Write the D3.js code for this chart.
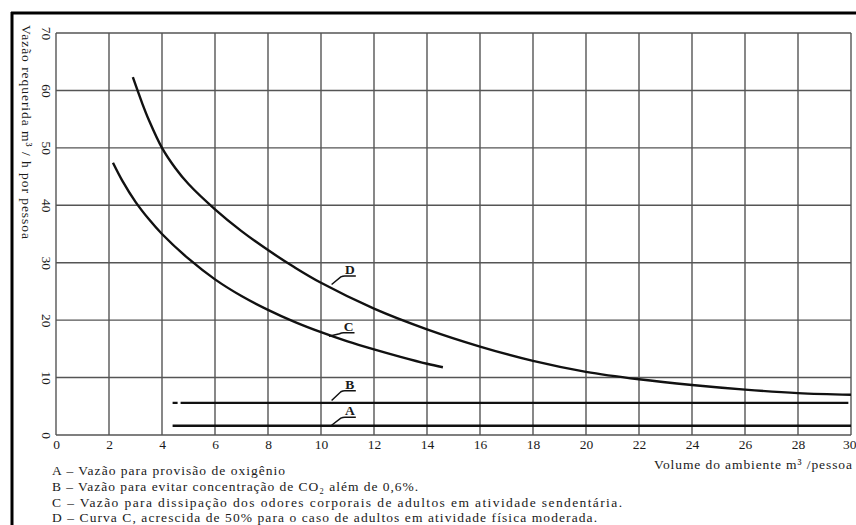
<!DOCTYPE html>
<html>
<head>
<meta charset="utf-8">
<script src="https://cdn.jsdelivr.net/npm/d3@7"></script>
<style>
  html, body { margin: 0; padding: 0; background: #fff; }
  svg { display: block; }
  text { font-family: "Liberation Serif", "DejaVu Serif", serif; fill: #1a1a1a; }
</style>
</head>
<body>
<svg id="chart" width="856" height="525"></svg>
<script>
// ---- data ----
const xTickValues = [0, 2, 4, 6, 8, 10, 12, 14, 16, 18, 20, 22, 24, 26, 28, 30];
const yTickValues = [0, 10, 20, 30, 40, 50, 60, 70];

// Curve C: odour dissipation, sedentary adults
const curveC_x = [2.15, 2.5, 3, 3.5, 4, 5, 6, 7, 8, 9, 10, 11, 12, 13, 14, 14.6];
const curveC_y = [47.4, 44.3, 40.6, 37.6, 35.0, 30.7, 27.1, 24.2, 21.8, 19.7, 17.9, 16.3, 14.9, 13.6, 12.4, 11.8];

// Curve D: curve C + 50%, moderate physical activity
const curveD_x = [2.9, 3.25, 3.5, 4, 4.5, 5, 6, 7, 8, 9, 10, 12, 14, 16, 18, 20, 22, 24, 26, 28, 30];
const curveD_y = [62.3, 57.8, 54.9, 50.0, 46.5, 43.7, 39.3, 35.5, 32.2, 29.2, 26.5, 22.0, 18.4, 15.4, 12.9, 11.0, 9.7, 8.7, 7.9, 7.3, 7.0];

// Line B: CO2 concentration limit; Line A: oxygen supply
const lineB_x = [4.4, 29.9];
const lineB_y = [5.6, 5.6];
const lineA_x = [4.4, 30];
const lineA_y = [1.6, 1.6];

const curveLabels = ["D", "C", "B", "A"];
const labelX = [11.05, 11.0, 11.05, 11.05];
const labelY = [27.7, 17.8, 7.7, 3.1];
const leaderEndX = [10.4, 10.3, 10.4, 10.4];
const leaderEndY = [26.2, 17.2, 6.0, 1.7];

const legendLines = [
  "A – Vazão para provisão de oxigênio",
  "B – Vazão para evitar concentração de CO₂  além de 0,6%.",
  "C – Vazão para dissipação dos odores corporais de adultos em atividade sendentária.",
  "D –  Curva C, acrescida de 50% para o caso de adultos em atividade física moderada."
];
const legendWidths = [233, 366, 570, 545];

const xTitle = "Volume do ambiente m³ /pessoa";
const yTitle = "Vazão requerida m³ / h por pessoa";

// ---- drawing ----
const svg = d3.select("#chart");
svg.append("rect").attr("width", 856).attr("height", 525).attr("fill", "#fff");

const x = d3.scaleLinear().domain([0, 30]).range([56, 851]);
const y = d3.scaleLinear().domain([0, 70]).range([435, 33]);

// frame (top and left edges of the scanned box)
svg.append("line").attr("x1", 11).attr("x2", 856).attr("y1", 13).attr("y2", 13)
  .attr("stroke", "#000").attr("stroke-width", 3);
svg.append("line").attr("x1", 12).attr("x2", 12).attr("y1", 12).attr("y2", 525)
  .attr("stroke", "#000").attr("stroke-width", 3);

// grid
const grid = svg.append("g").attr("stroke", "#555").attr("stroke-width", 1.4);
grid.selectAll("line.v").data(xTickValues).join("line").attr("class", "v")
  .attr("x1", d => x(d)).attr("x2", d => x(d)).attr("y1", y(0)).attr("y2", y(70));
grid.selectAll("line.h").data(yTickValues).join("line").attr("class", "h")
  .attr("x1", x(0)).attr("x2", x(30)).attr("y1", d => y(d)).attr("y2", d => y(d));

// axes via d3 axis generators (labels only, styled like the scan)
const xAxis = d3.axisBottom(x).tickValues(xTickValues).tickSize(0).tickPadding(0).tickFormat(d3.format("d"));
const gx = svg.append("g").attr("transform", `translate(0,${y(0)})`).call(xAxis);
gx.select(".domain").remove();
gx.selectAll("text").attr("font-size", 13.5).attr("dy", "0").attr("y", 14)
  .attr("font-family", "Liberation Serif, serif").attr("fill", "#333");
// keep the last label inside the page
gx.selectAll(".tick").filter(d => d === 30).select("text")
  .attr("text-anchor", "end").attr("x", 5);

const yAxis = d3.axisLeft(y).tickValues(yTickValues).tickSize(0).tickFormat(d3.format("d"));
const gy = svg.append("g").attr("transform", "translate(46,0)").call(yAxis);
gy.select(".domain").remove();
gy.selectAll("text")
  .attr("x", 0).attr("dy", 0)
  .attr("text-anchor", "middle")
  .attr("dominant-baseline", "central")
  .attr("font-size", 13.5)
  .attr("font-family", "Liberation Serif, serif").attr("fill", "#333")
  .attr("transform", "rotate(90)");

// y title (rotated, reading top to bottom)
svg.append("text")
  .attr("transform", "translate(26,25) rotate(90)")
  .attr("text-anchor", "start").attr("dominant-baseline", "central")
  .attr("font-size", 13.5).attr("textLength", 214).attr("lengthAdjust", "spacing")
  .text(yTitle);

// x title
svg.append("text")
  .attr("x", 852).attr("y", 469).attr("text-anchor", "end")
  .attr("font-size", 13.5).attr("textLength", 198).attr("lengthAdjust", "spacing")
  .text(xTitle);

// curves
const line = d3.line().x(d => x(d[0])).y(d => y(d[1])).curve(d3.curveCatmullRom.alpha(0.5));
const series = [
  { xs: curveC_x, ys: curveC_y, dash: null },
  { xs: curveD_x, ys: curveD_y, dash: null },
  { xs: lineB_x, ys: lineB_y, dash: "5,3,3000" },
  { xs: lineA_x, ys: lineA_y, dash: null }
];
svg.append("g").selectAll("path").data(series).join("path")
  .attr("d", s => line(s.xs.map((v, i) => [v, s.ys[i]])))
  .attr("fill", "none").attr("stroke", "#111").attr("stroke-width", 2.4)
  .attr("stroke-dasharray", s => s.dash);

// curve labels with leaders
const lab = svg.append("g");
curveLabels.forEach((t, i) => {
  const ux0 = x(labelX[i]) - 10, ux1 = x(labelX[i]) + 7, uy = y(labelY[i]);
  const ex = x(leaderEndX[i]), ey = y(leaderEndY[i]);
  lab.append("path")
    .attr("d", `M${ex},${ey} L${ux0 + 2},${uy + 1} Q${ux0 + 4},${uy} ${ux0 + 6},${uy} L${ux1},${uy}`)
    .attr("fill", "none").attr("stroke", "#111").attr("stroke-width", 1.5);
  lab.append("text")
    .attr("x", x(labelX[i]) + 1).attr("y", uy - 2)
    .attr("text-anchor", "middle")
    .attr("font-family", "Liberation Sans, Arial, sans-serif")
    .attr("font-weight", "bold").attr("font-size", 13.5).attr("fill", "#111")
    .text(t);
});

// legend text
const legendY = [475, 491, 506.5, 521.5];
svg.append("g").selectAll("text").data(legendLines).join("text")
  .attr("x", 52).attr("y", (d, i) => legendY[i])
  .attr("font-size", 13.5)
  .attr("textLength", (d, i) => legendWidths[i]).attr("lengthAdjust", "spacing")
  .text(d => d);
</script>
</body>
</html>
